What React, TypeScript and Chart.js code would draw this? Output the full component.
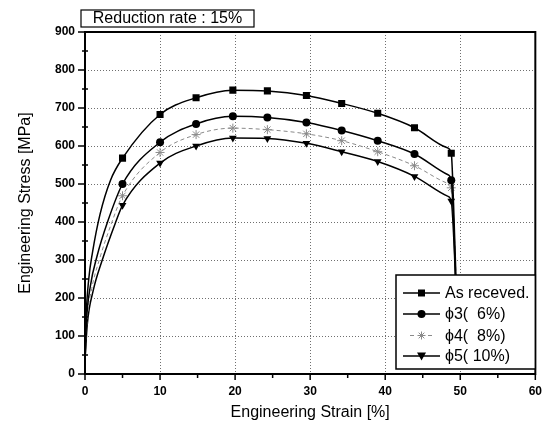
import React, { useEffect, useRef } from 'react';
import { Chart, registerables } from 'chart.js';

Chart.register(...registerables);

const FONT = '"Liberation Sans", Arial, Helvetica, sans-serif';

const TITLE_TEXT = 'Reduction rate : 15%';
const X_TITLE = 'Engineering Strain [%]';
const Y_TITLE = 'Engineering Stress [MPa]';

const X_MAJOR = [0, 10, 20, 30, 40, 50, 60];
const X_MINOR = [5, 15, 25, 35, 45, 55];
const Y_MAJOR = [0, 100, 200, 300, 400, 500, 600, 700, 800, 900];
const Y_MINOR = [50, 150, 250, 350, 450, 550, 650, 750, 850];

const SERIES_LABELS = ['As receved.', 'ϕ3(  6%)', 'ϕ4(  8%)', 'ϕ5( 10%)'];

// strains at which the symbols are drawn
const MARKER_STRAIN = [5, 10, 14.8, 19.7, 24.3, 29.5, 34.2, 39, 43.9, 48.8];

const AS_STRAIN = [0, 0.15, 0.5, 1.0, 2.0, 3.4, 5, 10, 14.8, 19.7, 24.3, 29.5, 34.2, 39, 43.9, 48.2, 48.8, 49.1, 49.4, 49.6];
const AS_STRESS = [35, 150, 250, 320, 420, 510, 568, 683, 727, 747, 745, 733, 712, 686, 648, 596, 581, 450, 270, 100];

const P3_STRAIN = [0, 0.2, 0.7, 1.6, 3.0, 5, 10, 14.8, 19.7, 24.3, 29.5, 34.2, 39, 43.9, 48.3, 48.8, 49.15, 49.45, 49.6];
const P3_STRESS = [35, 140, 230, 310, 400, 500, 610, 658, 678, 675, 662, 641, 614, 579, 525, 510, 380, 200, 100];

const P4_STRAIN = [0, 0.25, 0.9, 1.9, 3.5, 5, 10, 14.8, 19.7, 24.3, 29.5, 34.2, 39, 43.9, 48.3, 48.8, 49.3, 49.55, 49.7];
const P4_STRESS = [35, 135, 225, 300, 395, 469, 583, 630, 647, 643, 632, 614, 585, 548, 502, 490, 330, 180, 80];

const P5_STRAIN = [0, 0.3, 1.1, 2.3, 4.0, 5, 10, 14.8, 19.7, 24.3, 29.5, 34.2, 39, 43.9, 48.3, 48.8, 49.2, 49.5, 49.65];
const P5_STRESS = [35, 130, 220, 300, 395, 444, 555, 600, 621, 620, 607, 585, 559, 520, 468, 455, 330, 180, 80];

const toPoints = (xs: number[], ys: number[]) => xs.map((x, i) => ({ x, y: ys[i] }));

const STAR_GRAY = '#8a8a8a';

function drawMarker(ctx: CanvasRenderingContext2D, kind: string, x: number, y: number) {
  ctx.save();
  ctx.setLineDash([]);
  if (kind === 'rect') {
    ctx.fillStyle = '#000';
    ctx.fillRect(x - 3.5, y - 3.5, 7, 7);
  } else if (kind === 'circle') {
    ctx.fillStyle = '#000';
    ctx.beginPath();
    ctx.arc(x, y, 4, 0, Math.PI * 2);
    ctx.fill();
  } else if (kind === 'star') {
    ctx.strokeStyle = STAR_GRAY;
    ctx.lineWidth = 1;
    ctx.beginPath();
    for (let k = 0; k < 4; k++) {
      const a = (k * Math.PI) / 4;
      ctx.moveTo(x - 4 * Math.cos(a), y - 4 * Math.sin(a));
      ctx.lineTo(x + 4 * Math.cos(a), y + 4 * Math.sin(a));
    }
    ctx.stroke();
  } else if (kind === 'tri') {
    ctx.fillStyle = '#000';
    ctx.beginPath();
    ctx.moveTo(x - 4.5, y - 3.5);
    ctx.lineTo(x + 4.5, y - 3.5);
    ctx.lineTo(x, y + 4.5);
    ctx.closePath();
    ctx.fill();
  }
  ctx.restore();
}

const framePlugin = {
  id: 'frame',
  beforeDatasetsDraw(chart: any) {
    const { ctx, chartArea: a, scales } = chart;
    const xs = scales.x;
    const ys = scales.y;
    ctx.save();
    ctx.strokeStyle = '#6f6f6f';
    ctx.lineWidth = 1;
    ctx.setLineDash([1, 2]);
    X_MAJOR.filter((v) => v > 0 && v < 60).forEach((v) => {
      const px = Math.round(xs.getPixelForValue(v)) + 0.5;
      ctx.beginPath();
      ctx.moveTo(px, a.top);
      ctx.lineTo(px, a.bottom);
      ctx.stroke();
    });
    Y_MAJOR.filter((v) => v > 0 && v < 900).forEach((v) => {
      const py = Math.round(ys.getPixelForValue(v)) + 0.5;
      ctx.beginPath();
      ctx.moveTo(a.left, py);
      ctx.lineTo(a.right, py);
      ctx.stroke();
    });
    ctx.restore();
  },
  afterDatasetsDraw(chart: any) {
    const { ctx, chartArea: a, scales } = chart;
    const xs = scales.x;
    const ys = scales.y;
    ctx.save();
    ctx.setLineDash([]);
    ctx.strokeStyle = '#000';
    // frame
    ctx.lineWidth = 2;
    ctx.strokeRect(a.left, a.top, a.right - a.left, a.bottom - a.top);
    // ticks
    ctx.lineWidth = 1.5;
    ctx.beginPath();
    X_MAJOR.forEach((v) => {
      const px = xs.getPixelForValue(v);
      ctx.moveTo(px, a.bottom);
      ctx.lineTo(px, a.bottom + 6);
    });
    X_MINOR.forEach((v) => {
      const px = xs.getPixelForValue(v);
      ctx.moveTo(px, a.bottom);
      ctx.lineTo(px, a.bottom + 4);
    });
    Y_MAJOR.forEach((v) => {
      const py = ys.getPixelForValue(v);
      ctx.moveTo(a.left, py);
      ctx.lineTo(a.left - 7, py);
    });
    Y_MINOR.forEach((v) => {
      const py = ys.getPixelForValue(v);
      ctx.moveTo(a.left - 3, py);
      ctx.lineTo(a.left + 3, py);
    });
    ctx.stroke();

    // legend box
    const lx = 396;
    const lw = a.right - lx;
    const ly = 275;
    const lh = 94;
    ctx.fillStyle = '#fff';
    ctx.fillRect(lx, ly, lw, lh);
    ctx.lineWidth = 1.5;
    ctx.strokeStyle = '#000';
    ctx.strokeRect(lx, ly, lw, lh);
    const rows = [293, 314, 335.5, 356];
    const kinds = ['rect', 'circle', 'star', 'tri'];
    ctx.font = `16px ${FONT}`;
    ctx.textBaseline = 'middle';
    ctx.textAlign = 'left';
    rows.forEach((ry, i) => {
      ctx.save();
      if (kinds[i] === 'star') {
        ctx.strokeStyle = STAR_GRAY;
        ctx.lineWidth = 1;
        ctx.setLineDash([4, 3]);
        ctx.beginPath();
        ctx.moveTo(410, ry);
        ctx.lineTo(416, ry);
        ctx.moveTo(428, ry);
        ctx.lineTo(433, ry);
        ctx.stroke();
      } else {
        ctx.strokeStyle = '#000';
        ctx.lineWidth = 1.5;
        ctx.beginPath();
        ctx.moveTo(403, ry);
        ctx.lineTo(440, ry);
        ctx.stroke();
      }
      ctx.restore();
      drawMarker(ctx, kinds[i], 421.5, ry);
      ctx.fillStyle = '#000';
      ctx.fillText(SERIES_LABELS[i], 445, ry + 1);
    });
    ctx.restore();
  },
  afterDraw(chart: any) {
    const { ctx } = chart;
    ctx.save();
    ctx.setLineDash([]);
    ctx.strokeStyle = '#000';
    ctx.lineWidth = 1.2;
    ctx.strokeRect(81, 10, 173, 17);
    ctx.fillStyle = '#000';
    ctx.font = `16px ${FONT}`;
    ctx.textAlign = 'center';
    ctx.textBaseline = 'middle';
    ctx.fillText(TITLE_TEXT, 167.5, 19);
    ctx.restore();
  },
};

const markerRadius = (r: number) => (c: any) =>
  c.raw && MARKER_STRAIN.includes(c.raw.x) ? r : 0;

export default function App() {
  const ref = useRef<HTMLCanvasElement | null>(null);
  useEffect(() => {
    if (!ref.current) return;
    const chart = new Chart(ref.current, {
      type: 'line',
      data: {
        datasets: [
          {
            label: SERIES_LABELS[0],
            data: toPoints(AS_STRAIN, AS_STRESS),
            borderColor: '#000',
            backgroundColor: '#000',
            borderWidth: 1.5,
            pointStyle: 'rect',
            pointRadius: markerRadius(5),
            pointBorderWidth: 0,
            cubicInterpolationMode: 'monotone',
          },
          {
            label: SERIES_LABELS[1],
            data: toPoints(P3_STRAIN, P3_STRESS),
            borderColor: '#000',
            backgroundColor: '#000',
            borderWidth: 1.5,
            pointStyle: 'circle',
            pointRadius: markerRadius(4),
            pointBorderWidth: 0,
            cubicInterpolationMode: 'monotone',
          },
          {
            label: SERIES_LABELS[2],
            data: toPoints(P4_STRAIN, P4_STRESS),
            borderColor: STAR_GRAY,
            backgroundColor: STAR_GRAY,
            borderWidth: 1,
            borderDash: [4, 3],
            pointStyle: 'star',
            pointRadius: markerRadius(4.5),
            pointBorderWidth: 1,
            pointBorderColor: STAR_GRAY,
            cubicInterpolationMode: 'monotone',
          },
          {
            label: SERIES_LABELS[3],
            data: toPoints(P5_STRAIN, P5_STRESS),
            borderColor: '#000',
            backgroundColor: '#000',
            borderWidth: 1.5,
            pointStyle: 'triangle',
            rotation: 180,
            pointRadius: markerRadius(4.5),
            pointBorderWidth: 0,
            cubicInterpolationMode: 'monotone',
          },
        ],
      },
      options: {
        responsive: false,
        animation: false,
        events: [],
        layout: { padding: { top: 32, right: 12, left: 0, bottom: 0 } },
        plugins: {
          legend: { display: false },
          title: { display: false },
          tooltip: { enabled: false },
        },
        scales: {
          x: {
            type: 'linear',
            min: 0,
            max: 60,
            afterFit: (s: any) => {
              s.height = 54;
            },
            afterBuildTicks: (s: any) => {
              s.ticks = X_MAJOR.map((v) => ({ value: v }));
            },
            grid: { display: false, drawTicks: false, drawOnChartArea: false, tickLength: 0 },
            border: { display: false },
            ticks: {
              padding: 10,
              color: '#000',
              maxRotation: 0,
              font: { family: FONT, size: 12, weight: 'bold' },
            },
            title: {
              display: true,
              text: X_TITLE,
              color: '#000',
              font: { family: FONT, size: 16 },
              padding: { top: 0, bottom: 6 },
            },
          },
          y: {
            type: 'linear',
            min: 0,
            max: 900,
            afterFit: (s: any) => {
              s.width = 85;
            },
            afterBuildTicks: (s: any) => {
              s.ticks = Y_MAJOR.map((v) => ({ value: v }));
            },
            grid: { display: false, drawTicks: false, drawOnChartArea: false, tickLength: 0 },
            border: { display: false },
            ticks: {
              padding: 10,
              color: '#000',
              font: { family: FONT, size: 12, weight: 'bold' },
            },
            title: {
              display: true,
              text: Y_TITLE,
              color: '#000',
              font: { family: FONT, size: 16 },
              padding: { top: 16, bottom: 0 },
            },
          },
        },
      },
      plugins: [framePlugin],
    } as any);
    return () => chart.destroy();
  }, []);
  return (
    <div style={{ position: 'fixed', left: 0, top: 0, width: 552, height: 428, background: '#fff' }}>
      <canvas ref={ref} width={552} height={428} style={{ width: 552, height: 428 }} />
    </div>
  );
}
